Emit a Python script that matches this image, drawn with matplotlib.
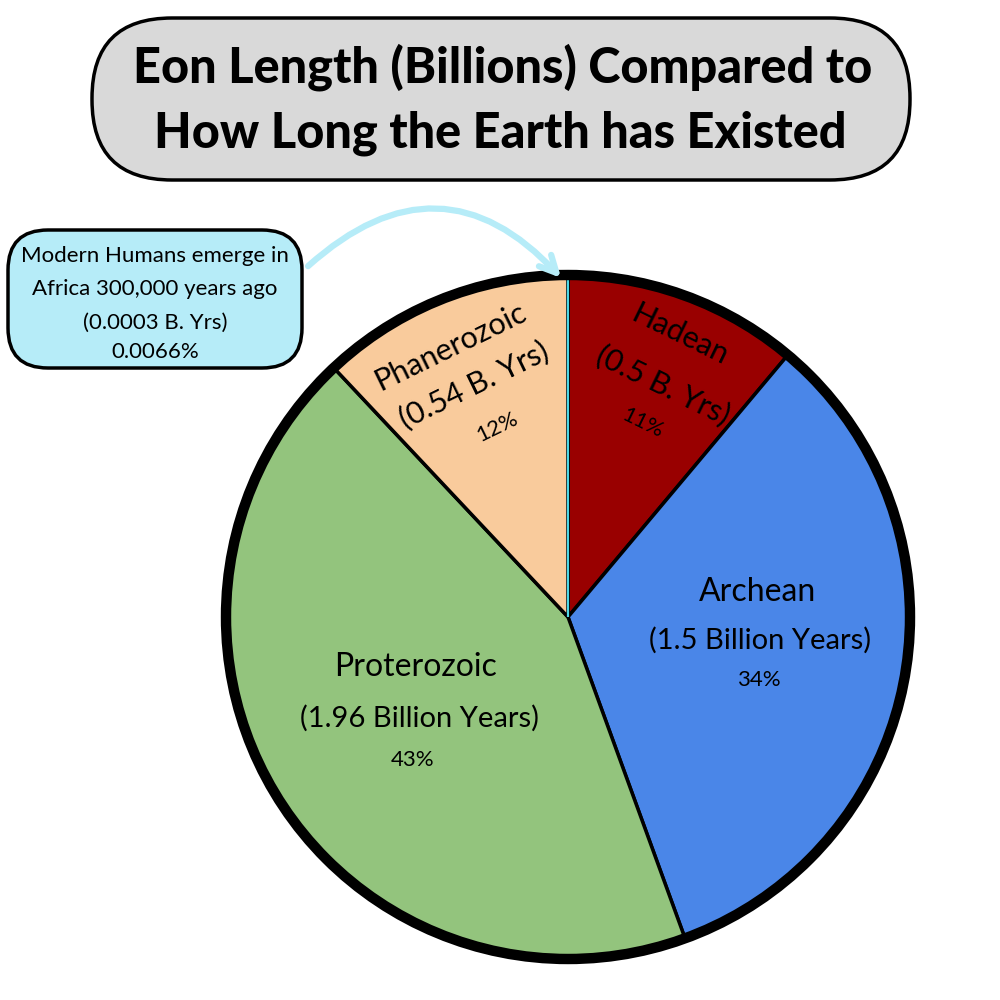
import matplotlib
matplotlib.use("Agg")
import matplotlib.pyplot as plt
from matplotlib.patches import FancyBboxPatch, FancyArrowPatch, Circle

# data
eons = ["Hadean", "Archean", "Proterozoic", "Phanerozoic", "Modern Humans"]
billion_years = [0.5, 1.5, 1.96, 0.54, 0.0003]
colors = ["#990000", "#4a86e8", "#93c47d", "#f9cb9c", "#4dd8e6"]
amount_labels = ["(0.5 B. Yrs)", "(1.5 Billion Years)", "(1.96 Billion Years)", "(0.54 B. Yrs)"]
pct_labels = ["11%", "34%", "43%", "12%"]

plt.rcParams["font.family"] = ["Lato", "DejaVu Sans"]

fig = plt.figure(figsize=(10, 10), dpi=100)
ax = fig.add_axes([0, 0, 1, 1])


def Y(y):
    # picture rows counted from the top
    return 1000 - y


cx, cy, r = 568, Y(617), 342
wedges, _ = ax.pie(billion_years, colors=colors, startangle=90, counterclock=False,
                   center=(cx, cy), radius=r,
                   wedgeprops=dict(edgecolor="black", linewidth=2.5))
wedges[-1].set_edgecolor("#4dd8e6")
wedges[-1].set_linewidth(1.5)
ax.add_patch(Circle((cx, cy), r, fill=False, edgecolor="black", linewidth=7.5, zorder=5))

big, small = 22, 16
# slice labels
ax.text(680, Y(335), eons[0], rotation=-26, fontsize=big, ha="center", va="center")
ax.text(663, Y(385), amount_labels[0], rotation=-26, fontsize=big, ha="center", va="center")
ax.text(642, Y(423), pct_labels[0], rotation=-26, fontsize=small, ha="center", va="center")

ax.text(450, Y(347), eons[3], rotation=26, fontsize=big, ha="center", va="center")
ax.text(474, Y(385), amount_labels[3], rotation=26, fontsize=big, ha="center", va="center")
ax.text(497, Y(427), pct_labels[3], rotation=26, fontsize=small, ha="center", va="center")

ax.text(758, Y(592), eons[1], fontsize=big + 1, ha="center", va="center")
ax.text(760, Y(640), amount_labels[1], fontsize=21, ha="center", va="center")
ax.text(759, Y(680), pct_labels[1], fontsize=small, ha="center", va="center")

ax.text(416, Y(667), eons[2], fontsize=big + 1, ha="center", va="center")
ax.text(419, Y(718), amount_labels[2], fontsize=21, ha="center", va="center")
ax.text(413, Y(760), pct_labels[2], fontsize=small, ha="center", va="center")

# title box
ax.add_patch(FancyBboxPatch((92, Y(180)), 818, 162,
                            boxstyle="round,pad=0,rounding_size=80",
                            facecolor="#d9d9d9", edgecolor="black", linewidth=2.5))
ax.text(503, Y(67), "Eon Length (Billions) Compared to", fontsize=35, fontweight="black",
        ha="center", va="center")
ax.text(500, Y(133), "How Long the Earth has Existed", fontsize=35, fontweight="black",
        ha="center", va="center")

# callout for modern humans
ax.add_patch(FancyBboxPatch((8, Y(368)), 294, 138,
                            boxstyle="round,pad=0,rounding_size=40",
                            facecolor="#b6ecf8", edgecolor="black", linewidth=2.5))
callout = ["Modern Humans emerge in", "Africa 300,000 years ago", "(0.0003 B. Yrs)", "0.0066%"]
for line, yy in zip(callout, [256, 289, 323, 352]):
    ax.text(155, Y(yy), line, fontsize=16, ha="center", va="center")

ax.add_patch(FancyArrowPatch((306, Y(268)), (563, Y(280)),
                             connectionstyle="arc3,rad=-0.5",
                             arrowstyle="->,head_length=12,head_width=6",
                             color="#b6ecf8", linewidth=4.5, zorder=6))

ax.set_xlim(0, 1000)
ax.set_ylim(0, 1000)
ax.set_aspect("equal")
ax.axis("off")
fig.savefig("out.png", dpi=100, facecolor="white")
